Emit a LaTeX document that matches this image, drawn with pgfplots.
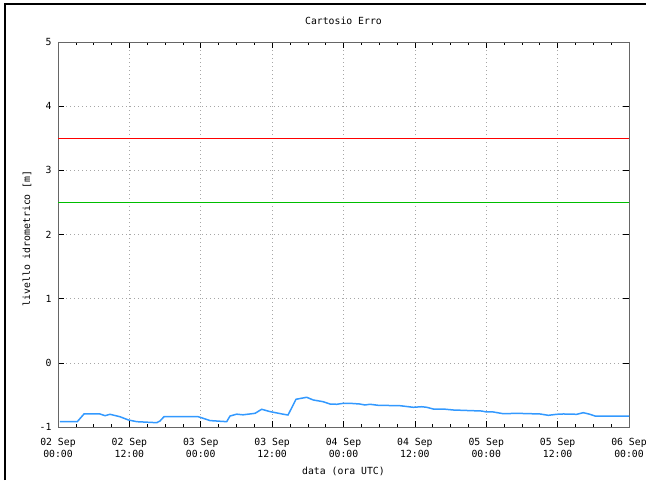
\documentclass[border=0pt]{standalone}
\usepackage{fontspec}
\setmainfont{DejaVu Sans Mono}
\usepackage{pgfplots}
\pgfplotsset{compat=1.18}
\definecolor{lvlblue}{RGB}{51,153,255}
\definecolor{lvlred}{RGB}{255,0,0}
\definecolor{lvlgreen}{RGB}{0,190,0}
\begin{document}
\fontsize{9.8}{12}\selectfont
\begin{tikzpicture}[x=1pt,y=1pt]
\path[use as bounding box] (0,0) rectangle (646,480);
\draw[line width=2pt] (5,0) -- (5,476) -- (647,476);
\begin{axis}[
  at={(58pt,53pt)}, anchor=south west,
  scale only axis, width=571pt, height=385pt,
  xmin=0, xmax=96, ymin=-1, ymax=5,
  xtick={0,12,...,96},
  xticklabels={02 Sep\\00:00,02 Sep\\12:00,03 Sep\\00:00,03 Sep\\12:00,04 Sep\\00:00,04 Sep\\12:00,05 Sep\\00:00,05 Sep\\12:00,06 Sep\\00:00},
  minor x tick num=3,
  ytick={-1,0,1,2,3,4,5},
  yticklabels={-1,0,1,2,3,4,5},
  tick align=inside,
  major tick length=6pt, minor tick length=3pt,
  tick style={black, line width=0.6pt},
  axis line style={black!60, line width=0.8pt},
  xmajorgrids, ymajorgrids,
  grid style={black!35, dash pattern=on 1pt off 3pt, line width=0.6pt},
  xticklabel style={align=center, font=\fontsize{9.8}{12}\selectfont, yshift=-7.5pt},
  yticklabel style={font=\fontsize{9.8}{12}\selectfont, xshift=-3pt},
  title={Cartosio Erro},
  every axis title/.style={at={(axis description cs:0.5,1.0545)}, anchor=center, font=\fontsize{9.8}{12}\selectfont},
  xlabel={data (ora UTC)},
  every axis x label/.style={at={(axis description cs:0.5,-0.1155)}, anchor=center, font=\fontsize{9.8}{12}\selectfont},
  ylabel={livello idrometrico [m]},
  every axis y label/.style={at={(axis description cs:-0.0543,0.49)}, rotate=90, anchor=center, font=\fontsize{9.8}{12}\selectfont},
]
\addplot[lvlred, line width=1pt] coordinates {(0,3.5) (96,3.5)};
\addplot[lvlgreen, line width=1pt] coordinates {(0,2.5) (96,2.5)};
\addplot[lvlblue, line width=1.5pt] coordinates {
(0.3,-0.917) (3.24,-0.917) (4.37,-0.797) (7.06,-0.797) (7.9,-0.824) (8.74,-0.802)
(10.42,-0.84) (11.82,-0.89) (13.23,-0.917) (16.6,-0.933) (17.15,-0.906) (17.82,-0.84)
(23.59,-0.84) (24.38,-0.864) (25.55,-0.90) (28.36,-0.917) (28.92,-0.829) (30.04,-0.80)
(31.1,-0.81) (33.12,-0.787) (34.25,-0.724) (35.64,-0.76) (37.83,-0.80) (38.67,-0.813)
(39.3,-0.70) (40.01,-0.568) (41.81,-0.537) (42.92,-0.579) (44.6,-0.606) (45.73,-0.642)
(46.86,-0.646) (47.97,-0.631) (49.1,-0.631) (50.77,-0.642) (51.61,-0.657) (52.45,-0.646)
(53.85,-0.662) (57.5,-0.668) (59.73,-0.693) (61.15,-0.684) (62,-0.693) (63.1,-0.72)
(64.78,-0.72) (66.46,-0.735) (71.23,-0.751) (72.07,-0.766) (73.19,-0.766) (74.87,-0.793)
(77.12,-0.787) (81.04,-0.797) (82.43,-0.818) (83.84,-0.802) (84.96,-0.797) (87.21,-0.802)
(88.32,-0.777) (89.44,-0.802) (90.28,-0.829) (96,-0.829)
};
\end{axis}
\end{tikzpicture}
\end{document}
